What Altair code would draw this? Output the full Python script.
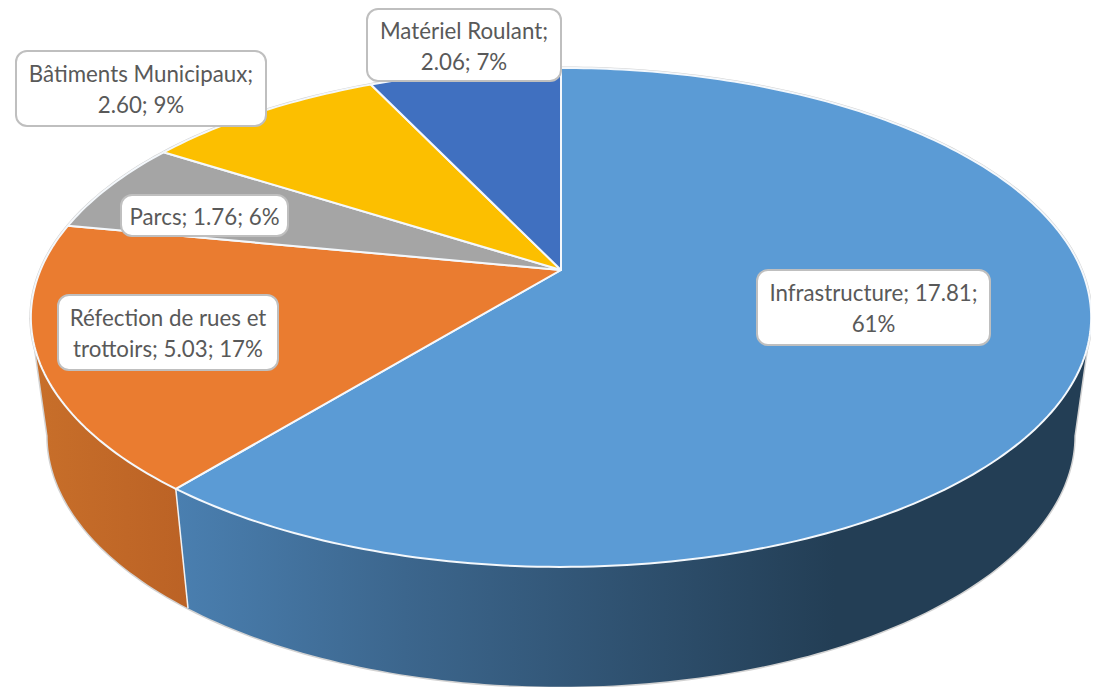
import math
import altair as alt

categories = ["Infrastructure", "Réfection de rues et trottoirs", "Parcs", "Bâtiments Municipaux", "Matériel Roulant"]
values = [17.81, 5.03, 1.76, 2.60, 2.06]
colors = ["#5B9BD5", "#EA7C30", "#A5A5A5", "#FCBF00", "#4070C0"]
label_texts = [
    "Infrastructure; 17.81;\n61%",
    "Réfection de rues et\ntrottoirs; 5.03; 17%",
    "Parcs; 1.76; 6%",
    "Bâtiments Municipaux;\n2.60; 9%",
    "Matériel Roulant;\n2.06; 7%",
]
# label boxes, page pixels: left, right, top, bottom
label_boxes = [
    (757, 990, 270, 345),
    (58, 278, 295, 370),
    (121, 288, 195, 236),
    (16, 266, 51, 126),
    (367, 561, 9, 81),
]

# perspective disc: apex-centred pixels
PAGE = 8
APEX = (561 - PAGE, 270 - PAGE)
K = -0.19
TOP = dict(b=520.5, a=240.5, c=0.0)
BOT = dict(b=504.0, a=242.0, c=118.0)
LINE = 31
TEXT_DY = 2


def ring(deg, r):
    t = math.radians(deg)
    X, Y = math.sin(t), -math.cos(t)
    d = 1 + K * Y
    return [r["b"] * X / d, r["c"] + r["a"] * Y / d]


def arc(a0, a1, r):
    n = max(2, int(abs(a1 - a0)) + 1)
    return [ring(a0 + (a1 - a0) * i / (n - 1), r) for i in range(n)]


def closed(points):
    return [points + [points[0]]]


def feature(kind, coords, **props):
    return {"type": "Feature", "properties": props,
            "geometry": {"type": kind, "coordinates": coords}}


def geo(features):
    return alt.Data(values={"type": "FeatureCollection", "features": features},
                    format=alt.DataFormat(property="features", type="json"))


total = sum(values)
angles = [0.0]
for v in values:
    angles.append(angles[-1] + 360 * v / total)

slices = [
    feature("Polygon", closed([[0, 0]] + arc(angles[i], angles[i + 1], TOP)), category=categories[i])
    for i in range(len(values))
]

RIGHT_EDGE, LEFT_EDGE = 101.0, 259.0
cut = angles[1]
side_blue = feature("Polygon", closed(arc(RIGHT_EDGE, cut, TOP) + arc(cut, RIGHT_EDGE, BOT)), part="a")
side_orange = feature("Polygon", closed(arc(cut, LEFT_EDGE, TOP) + arc(LEFT_EDGE, cut, BOT)), part="b")
separator = feature("LineString", [ring(cut, TOP), ring(cut, BOT)], part="s")
edge_bottom = feature("LineString", arc(RIGHT_EDGE, LEFT_EDGE, BOT), part="e")
edge_r = feature("LineString", [ring(RIGHT_EDGE, TOP), ring(RIGHT_EDGE, BOT)], part="e")
edge_l = feature("LineString", [ring(LEFT_EDGE, TOP), ring(LEFT_EDGE, BOT)], part="e")
edge_top = feature("LineString", arc(0, 360, TOP), part="e")

proj = dict(type="identity", scale=1, translate=list(APEX))

outline = alt.Chart(geo([edge_bottom, edge_r, edge_l, edge_top])).mark_geoshape(
    filled=False, stroke="#D2D2D2", strokeWidth=3).project(**proj)

blue_grad = alt.Gradient(
    gradient="linear", x1=0, x2=1, y1=0, y2=0,
    stops=[alt.GradientStop(color="#4A7FB0", offset=0.0),
           alt.GradientStop(color="#3C668D", offset=0.25),
           alt.GradientStop(color="#233E55", offset=0.72),
           alt.GradientStop(color="#233E55", offset=1.0)])
orange_grad = alt.Gradient(
    gradient="linear", x1=0, x2=1, y1=0, y2=0,
    stops=[alt.GradientStop(color="#C86F2A", offset=0.0),
           alt.GradientStop(color="#BB6225", offset=1.0)])

side1 = alt.Chart(geo([side_blue])).mark_geoshape(fill=blue_grad, strokeWidth=0).project(**proj)
side2 = alt.Chart(geo([side_orange])).mark_geoshape(fill=orange_grad, strokeWidth=0).project(**proj)
sep = alt.Chart(geo([separator])).mark_geoshape(filled=False, stroke="#F2F2F2", strokeWidth=1.5).project(**proj)

top = alt.Chart(geo(slices)).mark_geoshape(stroke="#F4F8FC", strokeWidth=2, strokeJoin="round").encode(
    fill=alt.Fill("properties.category:N",
                  scale=alt.Scale(domain=categories, range=colors), legend=None)
).project(**proj)

layers = [outline, side1, side2, sep, top]
blank = alt.Data(values=[{"k": 0}])
for text, (l, r, t, b) in zip(label_texts, label_boxes):
    layers.append(alt.Chart(blank).mark_rect(
        fill="white", stroke="#BFBFBF", strokeWidth=2, cornerRadius=11
    ).encode(x=alt.value(l - PAGE), x2=alt.value(r - PAGE), y=alt.value(t - PAGE), y2=alt.value(b - PAGE)))
    first_line = (t + b) / 2 - PAGE - (text.count("\n")) * LINE / 2 + TEXT_DY
    layers.append(alt.Chart(alt.Data(values=[{"t": text}])).mark_text(
        font="Lato", fontSize=22.3, color="#595959", align="center", baseline="middle",
        lineBreak="\n", lineHeight=LINE
    ).encode(x=alt.value((l + r) / 2 - PAGE), y=alt.value(first_line), text="t:N"))

chart = alt.layer(*layers).properties(
    width=1083, height=679, padding=0, autosize=alt.AutoSizeParams(type="none")
).configure_view(stroke=None)

chart.save("out.html", embed_options={"renderer": "svg", "actions": False})
